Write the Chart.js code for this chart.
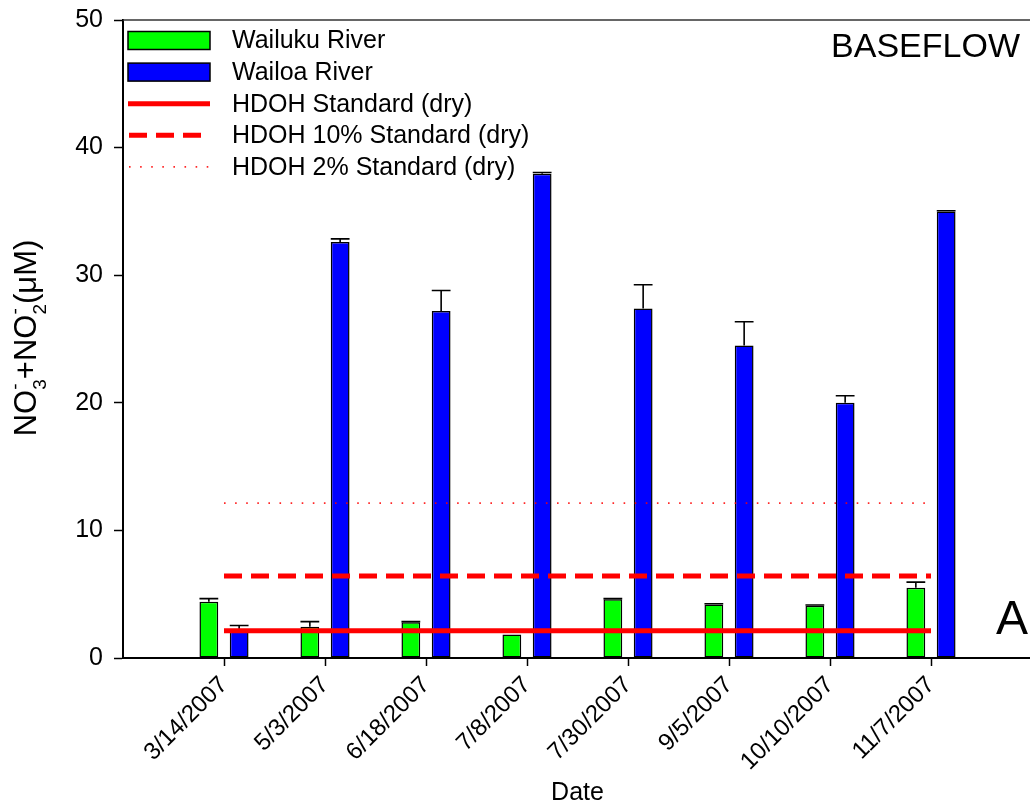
<!DOCTYPE html>
<html>
<head>
<meta charset="utf-8">
<title>NO3 + NO2 baseflow, Wailuku and Wailoa Rivers</title>
<script src="https://cdn.jsdelivr.net/npm/chart.js@4/dist/chart.umd.min.js"></script>
<style>
  html, body { margin: 0; padding: 0; background: #fff; overflow: hidden; }
  #wrap { width: 1030px; height: 809px; overflow: hidden; }
  canvas { display: block; }
</style>
</head>
<body>
<div id="wrap"><canvas id="chart" width="1040" height="809"></canvas></div>
<script>
// Sampling dates
const dates = ['3/14/2007', '5/3/2007', '6/18/2007', '7/8/2007', '7/30/2007', '9/5/2007', '10/10/2007', '11/7/2007'];

// NO3- + NO2- (uM), mean and error
const wailuku    = [4.4, 2.45, 2.8, 1.85, 4.6, 4.2, 4.1, 5.5];
const wailukuErr = [0.25, 0.4, 0.05, 0, 0.05, 0.05, 0.05, 0.45];
const wailoa     = [2.25, 32.6, 27.2, 37.95, 27.4, 24.5, 20.0, 35.0];
const wailoaErr  = [0.3, 0.25, 1.6, 0.1, 1.85, 1.85, 0.55, 0.05];

// HDOH dry-season standards (uM)
const hdohStandard   = 2.14;
const hdoh10Standard = 6.43;
const hdoh2Standard  = 12.14;

const yTicks = [0, 10, 20, 30, 40, 50];

// The axis carries an empty slot on each side of the dates
const labels = ['', ...dates, ''];
const pad = arr => [null, ...arr, null];
const flat = v => [null, ...dates.map(() => v), null];

const FONT = "'Liberation Sans', Arial, Helvetica, sans-serif";
Chart.defaults.font.family = FONT;
Chart.defaults.color = '#000';

// Whiskers drawn right after each bar dataset, beneath the standard lines
const errorBars = {
  id: 'errorBars',
  afterDatasetDraw(chart, args) {
    const ds = chart.data.datasets[args.index];
    if (!ds.errors) return;
    const ctx = chart.ctx;
    const y = chart.scales.y;
    ctx.save();
    ctx.strokeStyle = '#000';
    ctx.lineWidth = 1.6;
    args.meta.data.forEach((bar, i) => {
      const v = ds.data[i];
      const e = ds.errors[i];
      if (v == null || e == null || e <= 0) return;
      const top = y.getPixelForValue(v + e);
      const half = bar.width / 2;
      ctx.beginPath();
      ctx.moveTo(bar.x, bar.y);
      ctx.lineTo(bar.x, top);
      ctx.moveTo(bar.x - half, top);
      ctx.lineTo(bar.x + half, top);
      ctx.stroke();
    });
    ctx.restore();
  }
};

// Frame top line, y-axis title with sub/superscripts, legend and panel text
const decorations = {
  id: 'decorations',
  afterDraw(chart) {
    const ctx = chart.ctx;
    const area = chart.chartArea;
    ctx.save();

    // top frame line
    ctx.strokeStyle = '#333';
    ctx.lineWidth = 1.5;
    ctx.beginPath();
    ctx.moveTo(area.left, area.top);
    ctx.lineTo(area.right, area.top);
    ctx.stroke();

    // y-axis title: NO3- + NO2- (uM)
    const F = 31, f = 19;
    const parts = [
      { t: 'NO', size: F },
      { sub: '3', sup: '-' },
      { t: '+NO', size: F },
      { sub: '2', sup: '-' },
      { t: '(\u03BCM)', size: F }
    ];
    const widthOf = p => {
      if (p.t) { ctx.font = p.size + 'px ' + FONT; return ctx.measureText(p.t).width; }
      ctx.font = f + 'px ' + FONT;
      return Math.max(ctx.measureText(p.sub).width, ctx.measureText(p.sup).width);
    };
    const total = parts.reduce((s, p) => s + widthOf(p), 0);
    ctx.translate(36, 338);
    ctx.rotate(-Math.PI / 2);
    ctx.fillStyle = '#000';
    ctx.textBaseline = 'alphabetic';
    ctx.textAlign = 'left';
    let u = -total / 2;
    parts.forEach(p => {
      const w = widthOf(p);
      if (p.t) {
        ctx.font = p.size + 'px ' + FONT;
        ctx.fillText(p.t, u, 0);
      } else {
        ctx.font = f + 'px ' + FONT;
        ctx.fillText(p.sub, u, 10);
        ctx.fillText(p.sup, u, -15);
      }
      u += w;
    });
    ctx.setTransform(1, 0, 0, 1, 0, 0);

    // legend
    const x0 = 128, x1 = 210, tx = 232;
    chart.data.datasets.forEach((ds, i) => {
      const cy = 40.5 + i * 31.6;
      if (ds.type === 'line') {
        ctx.strokeStyle = ds.borderColor;
        ctx.lineWidth = ds.borderWidth;
        ctx.setLineDash(ds.borderDash || []);
        ctx.beginPath();
        ctx.moveTo(x0 + (ds.borderDash ? 1 : 0), cy);
        ctx.lineTo(x1, cy);
        ctx.stroke();
        ctx.setLineDash([]);
      } else {
        ctx.fillStyle = ds.backgroundColor;
        ctx.fillRect(x0, cy - 9, x1 - x0, 18);
        ctx.strokeStyle = '#000';
        ctx.lineWidth = 1.5;
        ctx.strokeRect(x0, cy - 9, x1 - x0, 18);
      }
      ctx.fillStyle = '#000';
      ctx.font = '25px ' + FONT;
      ctx.textBaseline = 'middle';
      ctx.textAlign = 'left';
      ctx.fillText(ds.label, tx, cy + 1);
    });

    // panel text
    ctx.fillStyle = '#000';
    ctx.textBaseline = 'alphabetic';
    ctx.textAlign = 'right';
    ctx.font = '34px ' + FONT;
    ctx.fillText('BASEFLOW', 1020, 57);
    ctx.textAlign = 'left';
    ctx.font = '48px ' + FONT;
    ctx.fillText('A', 996, 634);

    ctx.restore();
  }
};

// Keep the plot frame fixed: no extra room reserved for overhanging labels
function fixFit(size, key) {
  return function (scale) {
    scale[key] = size;
    scale.paddingLeft = 0;
    scale.paddingRight = 0;
    scale.paddingTop = 0;
    scale.paddingBottom = 0;
  };
}

new Chart(document.getElementById('chart'), {
  type: 'bar',
  data: {
    labels: labels,
    datasets: [
      {
        type: 'bar', label: 'Wailuku River', data: pad(wailuku), errors: pad(wailukuErr),
        backgroundColor: '#00ff00', borderColor: '#000', borderWidth: 1.5, borderSkipped: false,
        categoryPercentage: 0.6, barPercentage: 0.62, order: 2
      },
      {
        type: 'bar', label: 'Wailoa River', data: pad(wailoa), errors: pad(wailoaErr),
        backgroundColor: '#0000ff', borderColor: '#000', borderWidth: 1.5, borderSkipped: false,
        categoryPercentage: 0.6, barPercentage: 0.62, order: 2
      },
      {
        type: 'line', label: 'HDOH Standard (dry)', data: flat(hdohStandard),
        borderColor: '#ff0000', borderWidth: 5, pointRadius: 0, fill: false, order: 1
      },
      {
        type: 'line', label: 'HDOH 10% Standard (dry)', data: flat(hdoh10Standard),
        borderColor: '#ff0000', borderWidth: 5, borderDash: [18, 9], pointRadius: 0, fill: false, order: 1
      },
      {
        type: 'line', label: 'HDOH 2% Standard (dry)', data: flat(hdoh2Standard),
        borderColor: 'rgba(255,0,0,0.85)', borderWidth: 1.8, borderDash: [1.6, 9.5], pointRadius: 0, fill: false, order: 1
      }
    ]
  },
  options: {
    responsive: false,
    animation: false,
    events: [],
    layout: { padding: { top: 20, right: 8, bottom: 0, left: 0 } },
    plugins: { legend: { display: false }, tooltip: { enabled: false } },
    scales: {
      x: {
        offset: false,
        grid: {
          offset: false, drawOnChartArea: false, drawTicks: true, tickLength: 8, tickWidth: 1.5,
          tickColor: c => (c.tick && c.tick.label) ? '#000' : 'rgba(0,0,0,0)'
        },
        border: { color: '#000', width: 2 },
        ticks: { autoSkip: false, minRotation: 45, maxRotation: 45, padding: 5, font: { size: 24 }, color: '#000' },
        title: { display: true, text: 'Date', font: { size: 25 }, color: '#000', padding: { top: 0, bottom: 1 } },
        afterFit: fixFit(151, 'height')
      },
      y: {
        min: 0, max: 50,
        afterBuildTicks(scale) { scale.ticks = yTicks.map(v => ({ value: v })); },
        grid: { drawOnChartArea: false, drawTicks: true, tickLength: 9, tickWidth: 1.5, tickColor: '#000' },
        border: { color: '#000', width: 2 },
        ticks: { padding: 11, font: { size: 25 }, color: '#000' },
        afterFit: fixFit(123, 'width')
      }
    }
  },
  plugins: [errorBars, decorations]
});
</script>
</body>
</html>
